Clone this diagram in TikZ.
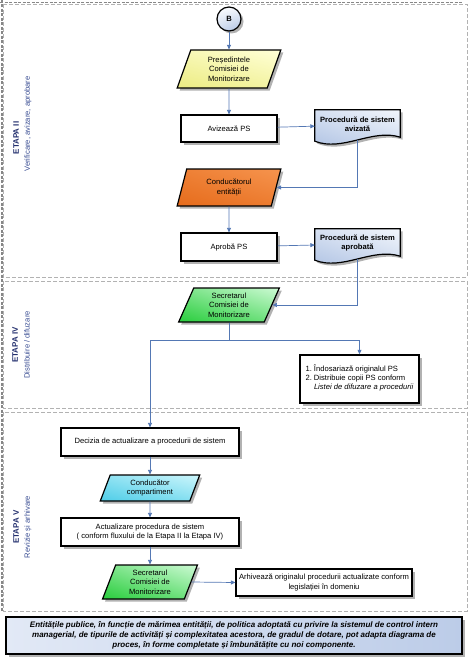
\documentclass[tikz,border=0pt]{standalone}
\usepackage{fontspec}
\setmainfont{Liberation Sans}
\usetikzlibrary{shapes.geometric,arrows.meta,shadows,shadings}
\definecolor{arrowblue}{RGB}{84,120,180}
\definecolor{lanegray}{RGB}{178,178,178}
\definecolor{framegray}{RGB}{135,135,135}
\definecolor{navy}{RGB}{36,48,110}
\definecolor{subblue}{RGB}{55,75,145}
\definecolor{yelA}{RGB}{236,236,130}
\definecolor{yelB}{RGB}{255,255,215}
\definecolor{oraA}{RGB}{230,108,28}
\definecolor{oraB}{RGB}{246,148,78}
\definecolor{grnA}{RGB}{40,205,60}
\definecolor{grnB}{RGB}{205,250,212}
\definecolor{cyaA}{RGB}{78,205,232}
\definecolor{cyaB}{RGB}{205,246,252}
\definecolor{docA}{RGB}{172,192,226}
\definecolor{docB}{RGB}{242,246,252}
\definecolor{footA}{RGB}{226,233,246}
\definecolor{footB}{RGB}{188,204,232}
\newcommand{\docpath}[1]{(#1.north west) -- (#1.north east) -- ([yshift=3pt]#1.south east) .. controls ([xshift=-28pt,yshift=12pt]#1.south east) and ([xshift=28pt,yshift=-12pt]#1.south west) .. ([yshift=-1pt]#1.south west) -- cycle}
\tikzset{
  shad/.style={drop shadow={shadow xshift=2.5pt,shadow yshift=-2.5pt,opacity=0.3,fill=black}},
  lane/.style={draw=lanegray,dash pattern=on 4pt off 2pt,line width=0.8pt},
  frame/.style={draw=framegray,dash pattern=on 3pt off 1.5pt,line width=1.8pt},
  txt/.style={font=\fontsize{7.6}{9.5}\selectfont,align=center},
  procbox/.style={draw=black,line width=1.2pt,fill=white,txt,inner sep=1pt,shad},
  para/.style={trapezium,trapezium left angle=73,trapezium right angle=107,
    trapezium stretches=true,draw=black,line width=1.2pt,txt,inner sep=0pt,shad},
  docnode/.style={font=\fontsize{7.6}{9}\selectfont\bfseries,align=center,
    minimum width=85pt,minimum height=30pt,inner sep=0pt},
  docshape/.style={draw=black,line width=1.2pt,upper left=docB!60!docA,upper right=docB,
    lower left=docA,lower right=docB!40!docA,shad},
  arr/.style={draw=arrowblue,line width=0.7pt,-{Triangle[length=4.5pt,width=4pt]}},
  lanelab/.style={rotate=90,font=\fontsize{8}{9}\selectfont\bfseries,text=navy},
  lanesub/.style={rotate=90,font=\fontsize{7.6}{9}\selectfont,text=subblue}
}
\begin{document}
\begin{tikzpicture}[x=1pt,y=-1pt]
\useasboundingbox (0,0) rectangle (474,661);
% lanes
\draw[lane] (3,4) rectangle (467,277);
\draw[lane] (3,281) rectangle (467,408);
\draw[lane] (3,412) rectangle (467,611);
\draw[frame] (0,2.5) -- (462,2.5);
\draw[frame] (2,0) -- (2,611);
% lane labels
\node[lanelab] (l1a) at (16,138) {ETAPA II};
\node[lanesub] (l1b) at (28,124) {Verificare, avizare, aprobare};
\node[lanelab] (l2a) at (15,345) {ETAPA IV};
\node[lanesub] (l2b) at (27,345) {Distribuire / difuzare};
\node[lanelab] (l3a) at (16,527) {ETAPA V};
\node[lanesub] (l3b) at (28,527) {Revizie și arhivare};
% lane 1
\node[circle,draw=black,line width=1.2pt,minimum size=24pt,inner sep=0pt,
  upper left=white,upper right=docB,lower left=docB!50!docA,lower right=docA,shad,
  font=\fontsize{7.6}{9}\selectfont\bfseries] (b) at (229,19) {B};
\node[para,minimum width=104pt,minimum height=38pt,
  upper left=yelB!60!yelA,upper right=yelB,lower left=yelA,lower right=yelB!40!yelA]
  (pres) at (229,69) {Președintele\\Comisiei de\\Monitorizare};
\node[procbox,minimum width=96pt,minimum height=27pt] (aviz) at (229,128.5) {Avizează PS};
\node[docnode] (d1) at (357.5,125) {};
\path[docshape] \docpath{d1};
\node[docnode] (d1t) at (357.5,124) {Procedură de sistem\\avizată};
\node[para,minimum width=104pt,minimum height=37pt,
  upper left=oraB!50!oraA,upper right=oraB,lower left=oraA,lower right=oraB!40!oraA]
  (cond) at (229,187.5) {Conducătorul\\entității};
\node[procbox,minimum width=96pt,minimum height=28pt] (apr) at (229,247) {Aprobă PS};
\node[docnode] (d2) at (357.5,244) {};
\path[docshape] \docpath{d2};
\node[docnode] (d2t) at (357.5,242.5) {Procedură de sistem\\aprobată};
% lane 2
\node[para,minimum width=101pt,minimum height=34pt,trapezium left angle=70,trapezium right angle=110,
  upper left=grnB!50!grnA,upper right=grnB,lower left=grnA,lower right=grnB!45!grnA]
  (sec1) at (229,305) {Secretarul\\Comisiei de\\Monitorizare};
\node[procbox,line width=1.5pt,minimum width=119pt,minimum height=48pt,inner sep=2pt] (list) at (359.5,379)
  {\begin{tabular}{@{}l@{\ }l@{}}1. & Îndosariază originalul PS\\[-0.5pt]
   2. & Distribuie copii PS conform\\[-0.5pt]
      & \textit{Listei de difuzare a procedurii}\end{tabular}};
\coordinate (j) at (229,340);
% lane 3
\node[procbox,minimum width=178pt,minimum height=28pt] (dec) at (150,442)
  {Decizia de actualizare a procedurii de sistem};
\node[para,minimum width=100pt,minimum height=26pt,trapezium left angle=71,trapezium right angle=109,
  upper left=cyaB!50!cyaA,upper right=cyaB,lower left=cyaA,lower right=cyaB!45!cyaA]
  (cc) at (150,488) {Conducător\\compartiment};
\node[procbox,minimum width=178pt,minimum height=28pt] (act) at (150,532)
  {Actualizare procedura de sistem\\( conform fluxului de la Etapa II la Etapa IV)};
\node[para,minimum width=95pt,minimum height=34pt,trapezium left angle=72,trapezium right angle=108,
  upper left=grnB!50!grnA,upper right=grnB,lower left=grnA,lower right=grnB!45!grnA]
  (sec2) at (150,582) {Secretarul\\Comisiei de\\Monitorizare};
\node[procbox,minimum width=176pt,minimum height=27pt] (arh) at (324,582.5)
  {Arhivează originalul procedurii actualizate conform\\legislației în domeniu};
% footer
\node[draw=black,line width=1.3pt,left color=footA,right color=footB,shad,
  minimum width=456pt,minimum height=37pt,align=center,inner sep=1pt,
  font=\fontsize{8}{10}\selectfont\bfseries\itshape] (foot) at (234,635.5)
  {Entitățile publice, în funcție de mărimea entității, de politica adoptată cu privire la sistemul de control intern\\
   managerial, de tipurile de activități și complexitatea acestora, de gradul de dotare, pot adapta diagrama de\\
   proces, în forme completate și îmbunătățite cu noi componente.};
% connectors
\draw[arr] (b) -- (pres);
\draw[arr] (pres) -- (aviz);
\draw[arr] (aviz) -- (d1);
\draw[arr] (d1.south) |- (cond.east);
\draw[arr] (cond) -- (apr);
\draw[arr] (apr) -- (d2);
\draw[arr] (d2.south) |- (sec1.east);
\draw[arr] (sec1) -- (j) -| (list.north);
\draw[arr] (j) -| (dec.north);
\draw[arr] (dec) -- (cc);
\draw[arr] (cc) -- (act);
\draw[arr] (act) -- (sec2);
\draw[arr] (sec2.east) -- (arh.west);
\end{tikzpicture}
\end{document}
